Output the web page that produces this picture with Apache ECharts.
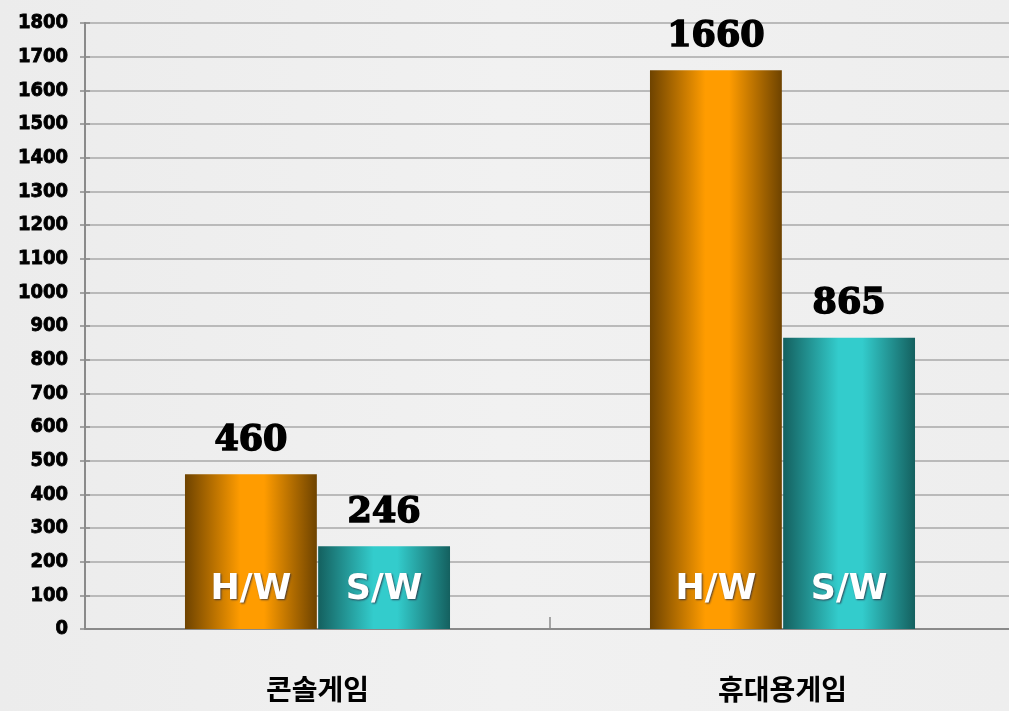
<!DOCTYPE html>
<html>
<head>
<meta charset="utf-8">
<script src="https://cdn.jsdelivr.net/npm/echarts@6/dist/echarts.min.js"></script>
<style>
html,body{margin:0;padding:0;background:#ececec;}
#main{width:1009px;height:711px;}
</style>
</head>
<body>
<div id="main"></div>
<script>
// 카테고리 / 값
var categories = ['콘솔게임', '휴대용게임'];
var seriesNames = ['H/W', 'S/W'];
var hwValues = [460, 1660];
var swValues = [246, 865];

var chart = echarts.init(document.getElementById('main'));

// 막대 가로 그라데이션
function barGrad(edge, mid) {
	return new echarts.graphic.LinearGradient(0, 0, 1, 0, [
		{offset: 0, color: edge},
		{offset: 0.42, color: mid},
		{offset: 0.6, color: mid},
		{offset: 1, color: edge}
	]);
}

var topLabel = {
	show: true,
	position: 'top',
	distance: 16,
	color: '#000',
	fontFamily: 'DejaVu Serif',
	fontWeight: 'bold',
	fontSize: 35,
	textBorderColor: '#000',
	textBorderWidth: 1.5
};

// 막대 안쪽 하단 라벨 (H/W, S/W)
function innerMark(name, values) {
	return {
		symbol: 'rect',
		symbolSize: 1,
		itemStyle: {color: 'rgba(0,0,0,0)'},
		label: {
			show: true,
			position: 'inside',
			offset: [0, -39],
			formatter: name,
			color: '#fff',
			fontFamily: 'DejaVu Sans',
			fontWeight: 'bold',
			fontSize: 35,
			textShadowColor: 'rgba(40,40,60,0.8)',
			textShadowBlur: 2,
			textShadowOffsetX: 1,
			textShadowOffsetY: 1
		},
		data: values.map(function (v, i) {
			return {coord: [i, 0], value: name};
		})
	};
}

var yAxisBase = {
	type: 'value',
	min: 0,
	max: 1800,
	interval: 100,
	axisLine: {show: true, lineStyle: {color: '#8a8a8a', width: 2}},
	axisTick: {show: true, length: 5, lineStyle: {color: '#8a8a8a', width: 1.5}}
};

chart.setOption({
	backgroundColor: new echarts.graphic.LinearGradient(0, 0, 1, 0, [
		{offset: 0, color: '#ececec'},
		{offset: 0.5, color: '#f1f1f1'},
		{offset: 1, color: '#eeeeee'}
	]),
	animation: false,
	grid: {left: 85, width: 930, top: 23, bottom: 82, outerBoundsMode: 'none'},
	xAxis: {
		type: 'category',
		data: categories,
		axisLine: {lineStyle: {color: '#8a8a8a', width: 2}},
		axisTick: {show: true, inside: true, length: 12, lineStyle: {color: '#8a8a8a', width: 1.5}},
		axisLabel: {
			margin: 46,
			color: '#000',
			fontFamily: 'Noto Sans CJK KR',
			fontWeight: 'bold',
			fontSize: 28
		}
	},
	yAxis: [
		echarts.util.merge({
			splitLine: {show: true, lineStyle: {color: '#a9a9a9', width: 1.5}},
			axisLabel: {
				margin: 17,
				color: '#000',
				fontFamily: 'DejaVu Sans Condensed',
				fontWeight: 'bold',
				fontSize: 20,
				textBorderColor: '#000',
				textBorderWidth: 0.8,
				formatter: function (v) { return String(v); }
			}
		}, yAxisBase, true),
		echarts.util.merge({
			position: 'left',
			splitLine: {show: false},
			axisLabel: {show: false}
		}, echarts.util.merge({axisTick: {inside: true}}, yAxisBase, false), true)
	],
	series: [
		{
			name: seriesNames[0],
			type: 'bar',
			data: hwValues,
			barGap: '1%',
			barCategoryGap: '43%',
			itemStyle: {color: barGrad('#6e4300', '#ff9c00')},
			label: topLabel,
			markPoint: innerMark(seriesNames[0], hwValues)
		},
		{
			name: seriesNames[1],
			type: 'bar',
			data: swValues,
			barGap: '1%',
			barCategoryGap: '43%',
			itemStyle: {color: barGrad('#14605f', '#33cccc')},
			label: topLabel,
			markPoint: innerMark(seriesNames[1], swValues)
		}
	]
});
</script>
</body>
</html>
